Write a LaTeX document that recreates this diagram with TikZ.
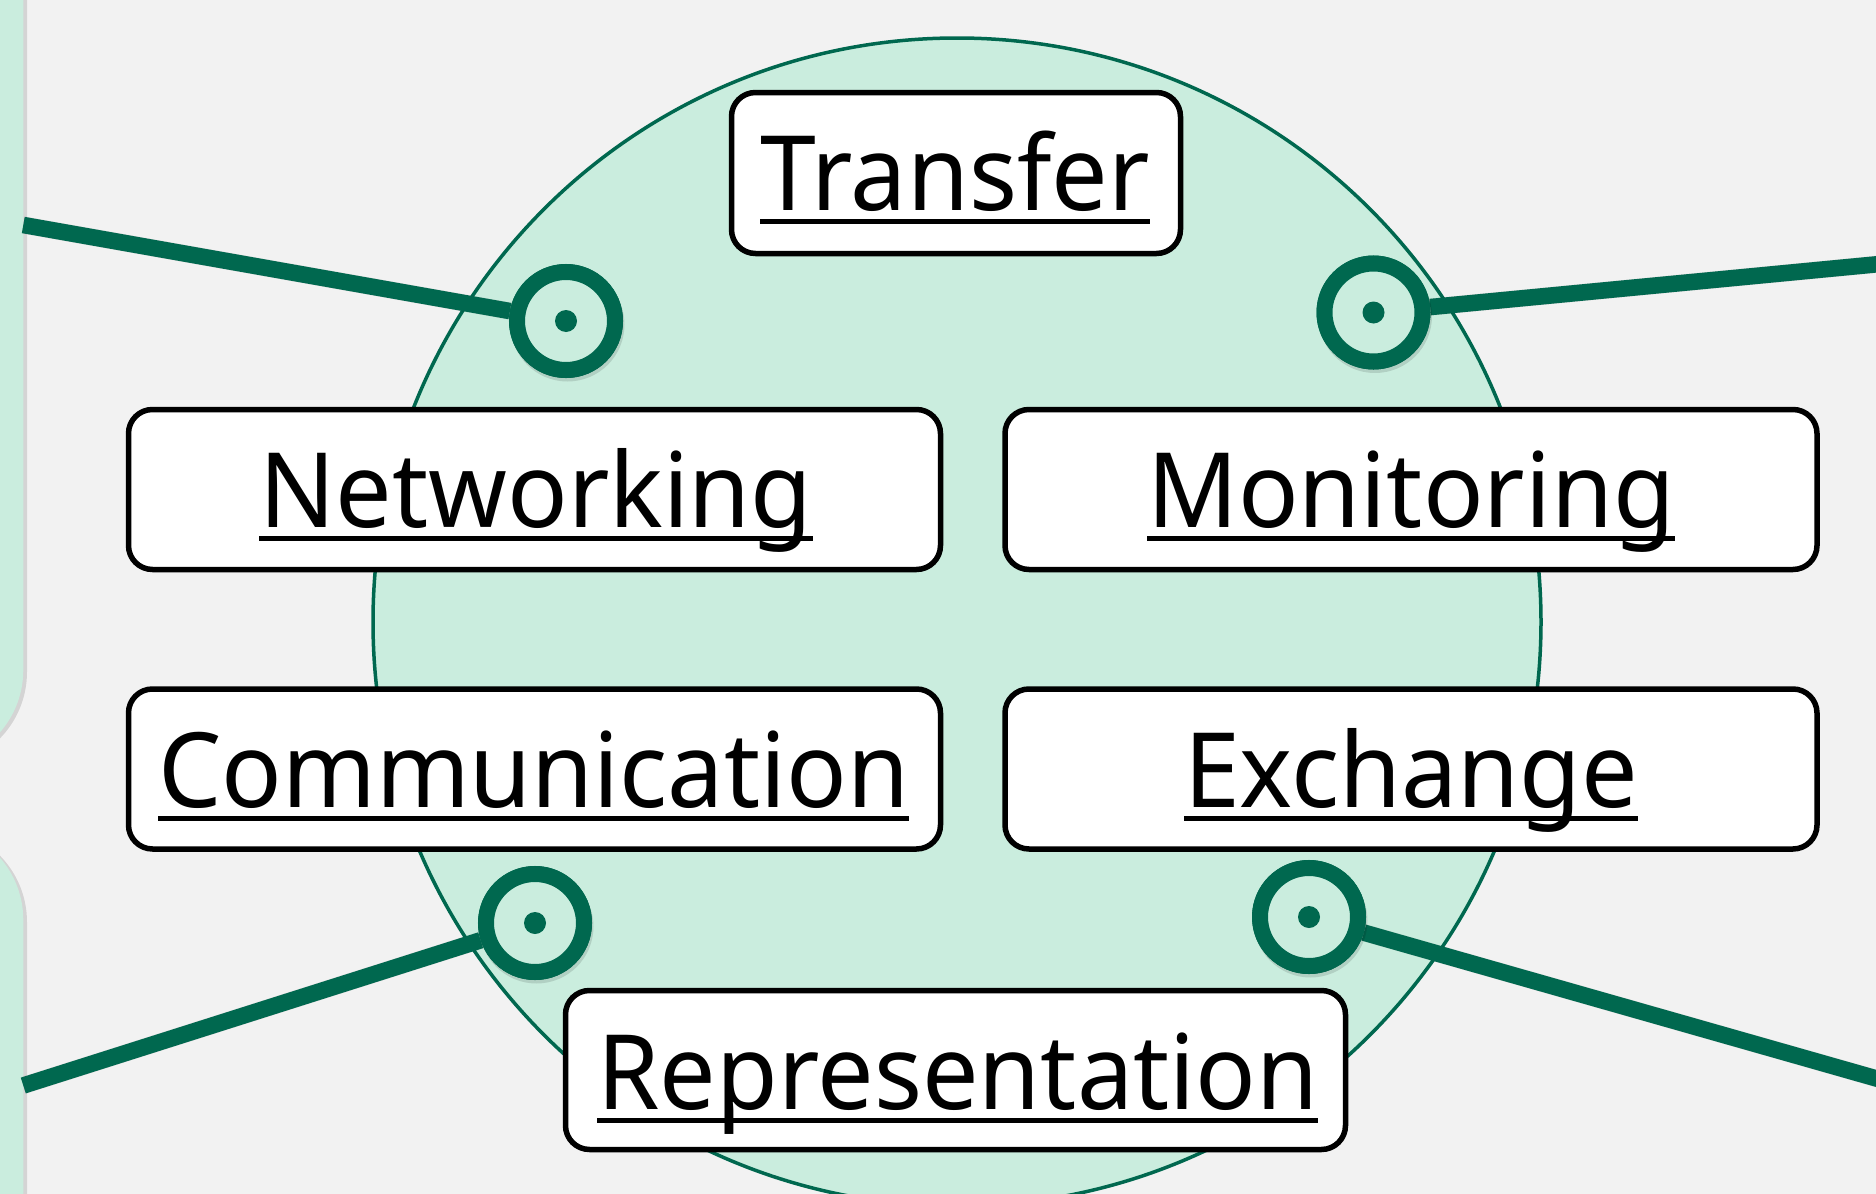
\documentclass[tikz,border=0pt]{standalone}
\usepackage{fontspec}
\setmainfont[FakeStretch=0.965]{Noto Sans}
\definecolor{bgc}{HTML}{F2F2F2}
\definecolor{lgreen}{HTML}{CAEDDE}
\definecolor{dgreen}{HTML}{00684F}
\begin{document}
\begin{tikzpicture}[x=0.5pt,y=-0.5pt,
  stripbox/.style={fill=lgreen, rounded corners=47.5pt},
  stripshadow/.style={fill=black, opacity=0.12, rounded corners=47.5pt},
  bigcirc/.style={circle, draw=dgreen, fill=lgreen, line width=1.75pt, minimum size=584pt, inner sep=0pt},
  conn/.style={draw=dgreen, line width=8.25pt},
  connshadow/.style={draw=black, opacity=0.12, line width=8.5pt},
  marker/.style={circle, draw=dgreen, fill=lgreen, line width=8pt, minimum size=49pt, inner sep=0pt},
  markershadow/.style={circle, fill=black, opacity=0.12, minimum size=57pt, inner sep=0pt},
  dot/.style={circle, fill=dgreen, minimum size=11pt, inner sep=0pt},
  box/.style={draw=black, fill=white, line width=2.75pt, rounded corners=12pt, inner sep=0pt, outer sep=0pt},
  lbl/.style={inner sep=0pt, outer sep=0pt, anchor=base, font=\fontsize{52}{62}\selectfont},
  uline/.style={draw=black, line width=2.5pt}
]
\path[use as bounding box, fill=bgc] (0,0) rectangle (1876,1194);
\begin{scope}
\clip (0,0) rectangle (1876,1194);
% left strips
\fill[stripshadow] (-300,-300) rectangle (27,767);
\fill[stripbox] (-300,-300) rectangle (23.3,765);
\fill[stripshadow] (-300,827) rectangle (27,1500);
\fill[stripbox] (-300,825) rectangle (23.3,1500);
% big circle
\node[bigcirc] (C) at (957,622) {};
% free ends of connectors
\coordinate (L1) at (23.3,225);
\coordinate (L2) at (1880,264);
\coordinate (L3) at (23.3,1085.5);
\coordinate (L4) at (1880,1079.5);
% markers
\node[marker] (m1) at (566,321) {};
\node[marker] (m2) at (1373.5,312.5) {};
\node[marker] (m3) at (535,923) {};
\node[marker] (m4) at (1309,917) {};
% connectors with shadow
\begin{scope}[shift={(1.5,3.5)}]
\draw[connshadow] (L1) -- (m1.center);
\draw[connshadow] (L2) -- (m2.center);
\draw[connshadow] (L3) -- (m3.center);
\draw[connshadow] (L4) -- (m4.center);
\end{scope}
\draw[conn] (L1) -- (m1);
\draw[conn] (L2) -- (m2);
\draw[conn] (L3) -- (m3);
\draw[conn] (L4) -- (m4);
% marker shadows and markers on top
\foreach \m in {m1,m2,m3,m4}{
  \node[markershadow] at ([shift={(1.5,3.5)}]\m.center) {};
}
\node[marker] at (m1.center) {};
\node[marker] at (m2.center) {};
\node[marker] at (m3.center) {};
\node[marker] at (m4.center) {};
\node[dot] (d1) at (m1.center) {};
\node[dot] (d2) at (m2.center) {};
\node[dot] (d3) at (m3.center) {};
\node[dot] (d4) at (m4.center) {};
% boxes
\node[box, minimum width=224.5pt, minimum height=80.5pt] (bT) at (956,173) {};
\node[box, minimum width=406pt, minimum height=80pt] (bN) at (534.5,489.5) {};
\node[box, minimum width=406pt, minimum height=80pt] (bM) at (1411,489.5) {};
\node[box, minimum width=406pt, minimum height=80pt] (bC) at (534.5,769) {};
\node[box, minimum width=406pt, minimum height=80pt] (bE) at (1411,769) {};
\node[box, minimum width=390pt, minimum height=79.5pt] (bR) at (955.5,1070) {};
% labels
\node[lbl] (tT) at (955,210.5) {Transfer};
\node[lbl] (tN) at (536,527.6) {Networking};
\node[lbl] (tM) at (1411,527.6) {Monitoring};
\node[lbl] (tC) at (533.6,807.6) {Communication};
\node[lbl] (tE) at (1411,807.6) {Exchange};
\node[lbl] (tR) at (957.7,1109) {Representation};
% underlines
\foreach \t in {tT,tN,tM,tC,tE,tR}{
  \draw[uline] ([yshift=-5.5pt]\t.base west) -- ([yshift=-5.5pt]\t.base east);
}
\end{scope}
\end{tikzpicture}
\end{document}
